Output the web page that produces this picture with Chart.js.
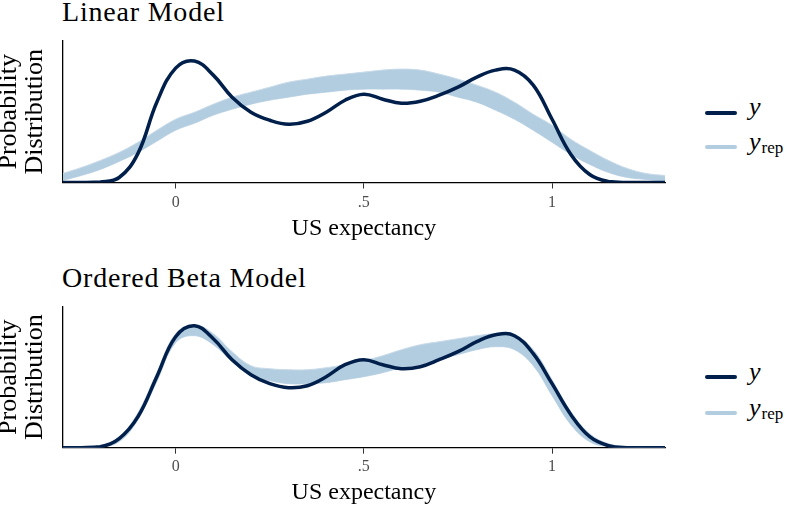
<!DOCTYPE html>
<html>
<head>
<meta charset="utf-8">
<script src="https://cdn.jsdelivr.net/npm/chart.js@4.4.1/dist/chart.umd.min.js"></script>
<style>
  body { margin: 0; background: #fff; width: 789px; height: 510px; overflow: hidden; position: relative;
         font-family: "Liberation Serif", "Times New Roman", serif; }
  canvas { position: absolute; }
  .titulo { position: absolute; left: 62px; font-size: 28px; line-height: 28px; letter-spacing: 0.8px; color: #000; white-space: nowrap; }
  .leg-linha { position: absolute; left: 705px; width: 32px; height: 4px; border-radius: 2px; }
  .leg-txt { position: absolute; left: 749px; font-size: 26px; line-height: 26px; font-style: italic; color: #000; white-space: nowrap; }
  .leg-txt span { font-style: normal; font-size: 17px; position: relative; top: 3px; margin-left: 1px; }
</style>
</head>
<body>

<div class="titulo" style="top:-2.5px">Linear Model</div>
<canvas id="painel1" width="704" height="250" style="left:-4px; top:0px"></canvas>
<div class="leg-linha" style="top:110.7px; background:#011f4b"></div>
<div class="leg-linha" style="top:145.3px; background:#b3cde0"></div>
<div class="leg-txt" style="top:94.2px">y</div>
<div class="leg-txt" style="top:129.2px">y<span>rep</span></div>

<div class="titulo" style="top:263.5px">Ordered Beta Model</div>
<canvas id="painel2" width="704" height="248" style="left:-4px; top:262px"></canvas>
<div class="leg-linha" style="top:374.7px; background:#011f4b"></div>
<div class="leg-linha" style="top:411.3px; background:#b3cde0"></div>
<div class="leg-txt" style="top:358.7px">y</div>
<div class="leg-txt" style="top:394.7px">y<span>rep</span></div>

<script>
  // grade de x (US expectancy) onde as densidades foram lidas
  const xGrid = [-0.3, -0.25, -0.2, -0.15, -0.1, -0.05, 0, 0.05, 0.1, 0.15, 0.2, 0.25, 0.3, 0.35, 0.4, 0.45,
                 0.5, 0.55, 0.6, 0.65, 0.7, 0.75, 0.8, 0.85, 0.9, 0.95, 1, 1.05, 1.1, 1.15, 1.2, 1.25, 1.3];

  // Linear Model: densidade observada (y) e faixa das replicas (y_rep)
  const linearY     = [0, 0, 0.005, 0.05, 0.29, 0.80, 1.14, 1.21, 1.07, 0.85, 0.70, 0.62, 0.58, 0.61, 0.70, 0.82,
                       0.88, 0.83, 0.79, 0.81, 0.87, 0.95, 1.05, 1.12, 1.12, 0.97, 0.63, 0.28, 0.08, 0.01, 0, 0, 0];
  const linearRepLo = [0.02, 0.07, 0.13, 0.21, 0.30, 0.41, 0.52, 0.59, 0.67, 0.73, 0.78, 0.82, 0.85, 0.88, 0.90, 0.92,
                       0.93, 0.93, 0.93, 0.92, 0.90, 0.85, 0.80, 0.72, 0.63, 0.52, 0.40, 0.28, 0.18, 0.10, 0.05, 0.03, 0.01];
  const linearRepHi = [0.09, 0.15, 0.22, 0.30, 0.40, 0.52, 0.63, 0.70, 0.78, 0.85, 0.90, 0.95, 1.00, 1.03, 1.06, 1.08,
                       1.10, 1.12, 1.13, 1.12, 1.08, 1.03, 0.97, 0.90, 0.80, 0.68, 0.57, 0.43, 0.32, 0.22, 0.14, 0.09, 0.07];

  // Ordered Beta Model
  const betaY     = [0, 0, 0.01, 0.09, 0.31, 0.71, 1.11, 1.22, 1.09, 0.88, 0.73, 0.64, 0.60, 0.62, 0.71, 0.83,
                     0.88, 0.83, 0.79, 0.81, 0.88, 0.96, 1.06, 1.13, 1.12, 0.94, 0.64, 0.33, 0.11, 0.02, 0, 0, 0];
  const betaRepLo = [0, 0, 0.005, 0.06, 0.28, 0.66, 1.05, 1.12, 1.03, 0.86, 0.72, 0.67, 0.64, 0.64, 0.65, 0.68,
                     0.71, 0.75, 0.80, 0.83, 0.88, 0.93, 0.98, 1.01, 0.98, 0.82, 0.52, 0.23, 0.06, 0.01, 0, 0, 0];
  const betaRepHi = [0, 0.005, 0.02, 0.11, 0.35, 0.75, 1.14, 1.23, 1.14, 0.96, 0.82, 0.79, 0.78, 0.78, 0.80, 0.83,
                     0.87, 0.92, 0.98, 1.03, 1.06, 1.09, 1.12, 1.14, 1.13, 0.98, 0.68, 0.36, 0.14, 0.04, 0.01, 0, 0];

  const xTicks = [0, 0.5, 1];
  const xTickLabels = ['0', '.5', '1'];
  const yMax = 1.41;

  const fonte = '"Liberation Serif", "Times New Roman", serif';

  function criarPainel(id, dadosY, repLo, repHi, cfg) {
    const pontos = arr => arr.map((v, i) => ({ x: xGrid[i], y: v }));

    new Chart(document.getElementById(id), {
      type: 'line',
      data: {
        datasets: [
          // y observado por cima de tudo (order menor = desenhado por ultimo)
          { data: pontos(dadosY), order: 0, borderColor: '#011f4b', borderWidth: 3.5, pointRadius: 0, fill: false,
            tension: 0.4, borderCapStyle: 'round' },
          { data: pontos(repLo), order: 2, borderColor: '#c9dbe9', borderWidth: 1, pointRadius: 0, fill: false,
            tension: 0.4 },
          // faixa das replicas: preenche ate a curva inferior (dataset anterior)
          { data: pontos(repHi), order: 1, borderColor: '#c9dbe9', borderWidth: 1, pointRadius: 0, fill: '-1',
            backgroundColor: '#b3cde0', tension: 0.4 }
        ]
      },
      options: {
        responsive: false,
        animation: false,
        devicePixelRatio: 1,
        layout: { padding: { top: cfg.topo, right: 35, left: 0, bottom: 0 } },
        plugins: { legend: { display: false }, tooltip: { enabled: false } },
        scales: {
          x: {
            type: 'linear', min: -0.3, max: 1.3,
            afterBuildTicks: ax => { ax.ticks = xTicks.map(v => ({ value: v })); },
            afterFit: ax => { ax.height = cfg.xAltura; },
            ticks: { autoSkip: false, maxRotation: 0, padding: cfg.tickPad, color: '#4d4d4d',
                     font: { family: fonte, size: 16 },
                     callback: v => xTickLabels[xTicks.indexOf(v)] },
            grid: { drawOnChartArea: false, drawTicks: true, tickLength: 6, color: '#333', lineWidth: 1 },
            border: { display: true, color: '#000', width: 1.3 },
            title: { display: true, text: 'US expectancy', color: '#000',
                     font: { family: fonte, size: 24, lineHeight: 1.2 },
                     padding: { top: 0, bottom: cfg.tituloPad } }
          },
          y: {
            min: 0, max: yMax,
            ticks: { display: false },
            grid: { display: false },
            afterFit: ax => { ax.width = 66.7; },
            border: { display: true, color: '#000', width: 1.3 },
            title: { display: true, text: ['Probability', 'Distribution'], color: '#000',
                     font: { family: fonte, size: 26, lineHeight: 1.0 }, padding: 0 }
          }
        }
      }
    });
  }

  criarPainel('painel1', linearY, linearRepLo, linearRepHi, { topo: 41, xAltura: 67.5, tickPad: 4.4, tituloPad: 7.2 });
  criarPainel('painel2', betaY, betaRepLo, betaRepHi, { topo: 44.7, xAltura: 62.3, tickPad: 3.4, tituloPad: 3.2 });
</script>
</body>
</html>
